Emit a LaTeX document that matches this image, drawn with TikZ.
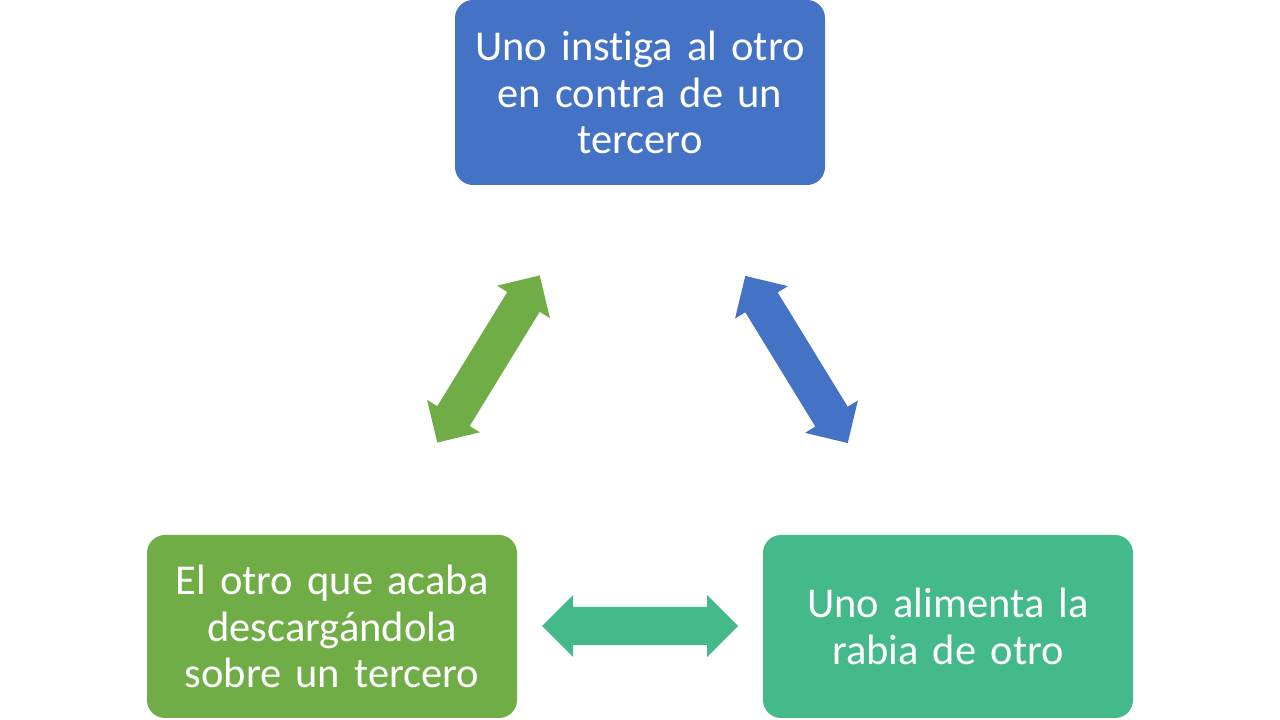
\documentclass[tikz,border=0pt]{standalone}
\usepackage{fontspec}
\setmainfont[RawFeature={-liga;-calt;-dlig;-clig}, WordSpace=0.72]{Carlito}
\definecolor{cblue}{HTML}{4472C4}
\definecolor{cgreen}{HTML}{70AD47}
\definecolor{cteal}{HTML}{44BA8A}
\begin{document}
\begin{tikzpicture}[x=1pt,y=1pt,
  box/.style={rounded corners=18pt, minimum width=370pt, text width=360pt, align=center, text=white, inner sep=0pt,
    font=\fontsize{42.5}{46.5}\selectfont},
  dblarr/.pic={\fill[pic actions] (-98,0) -- (-67,31) -- (-67,19) -- (67,19) -- (67,31) -- (98,0) -- (67,-31) -- (67,-19) -- (-67,-19) -- (-67,-31) -- cycle;}
]
\useasboundingbox (0,0) rectangle (1280,720);
\node[box, fill=cblue, minimum height=185pt] (top) at (640,627.5) {Uno instiga al otro\\en contra de un\\tercero};
\node[box, fill=cgreen, minimum height=183pt] (left) at (332,93.5) {El otro que acaba\\descargándola\\sobre un tercero};
\node[box, fill=cteal, minimum height=183pt] (right) at (948,93.5) {Uno alimenta la\\rabia de otro};
\pic[fill=cgreen, rotate=58.5] (ga) at (488.5,361) {dblarr};
\pic[fill=cblue, rotate=-58.5] (ba) at (796.5,360.5) {dblarr};
\pic[fill=cteal] (ta) at (640,94) {dblarr};
\end{tikzpicture}
\end{document}
